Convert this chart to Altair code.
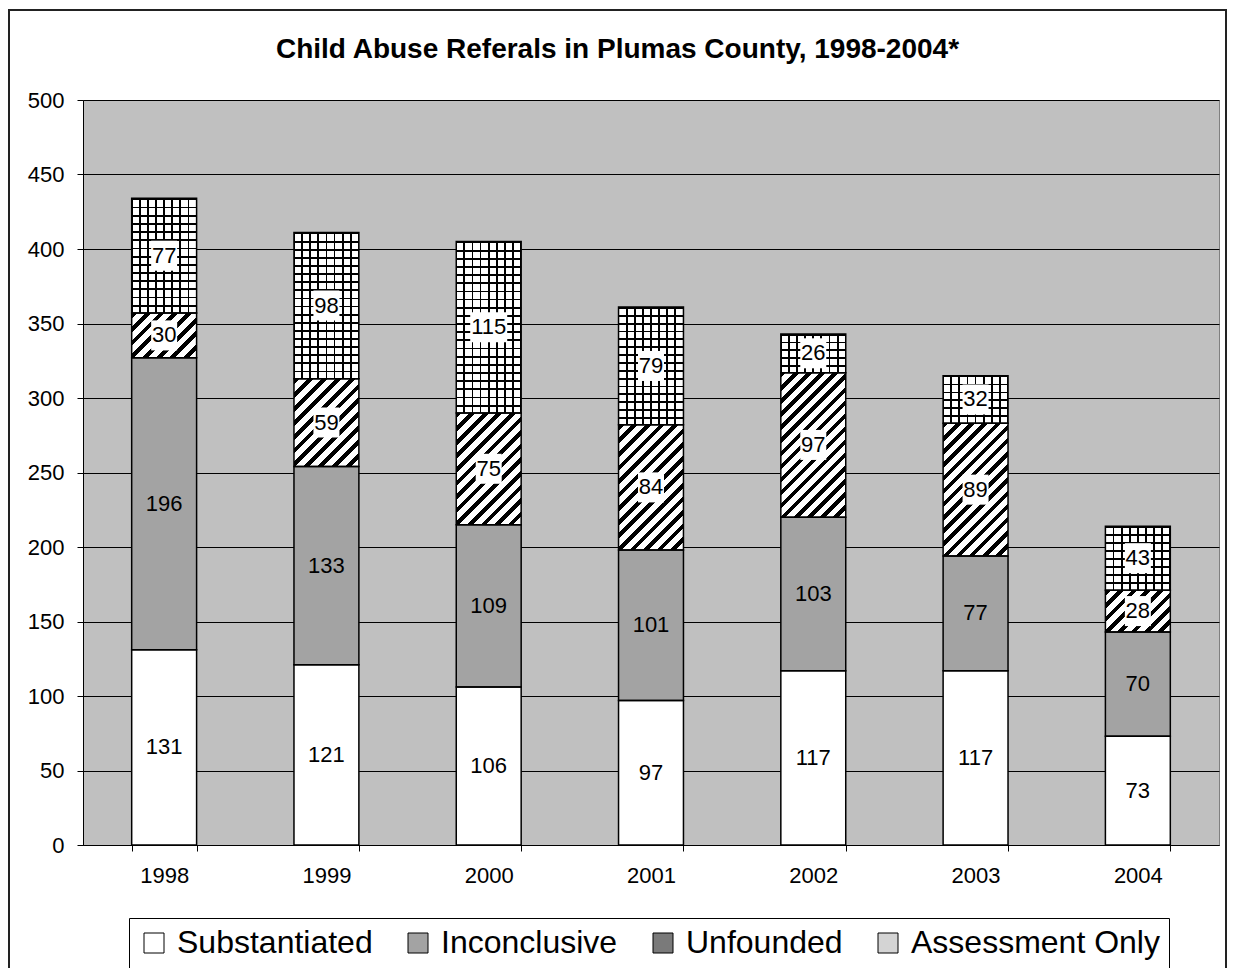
import math
import altair as alt
import pandas as pd

# ---------------- data ----------------
years = ["1998", "1999", "2000", "2001", "2002", "2003", "2004"]
substantiated = [131, 121, 106, 97, 117, 117, 73]
inconclusive = [196, 133, 109, 101, 103, 77, 70]
unfounded = [30, 59, 75, 84, 97, 89, 28]
assessment = [77, 98, 115, 79, 26, 32, 43]
categories = ["Substantiated", "Inconclusive", "Unfounded", "Assessment Only"]
title_text = "Child Abuse Referals in Plumas County, 1998-2004*"
y_ticks = [0, 50, 100, 150, 200, 250, 300, 350, 400, 450, 500]

series = [substantiated, inconclusive, unfounded, assessment]
rows = []
for i, yr in enumerate(years):
    for k, (cat, vals) in enumerate(zip(categories, series)):
        rows.append({"year": yr, "category": cat, "order": k, "value": vals[i]})
df = pd.DataFrame(rows)

# ---------------- style ----------------
FONT = "Liberation Sans"
W, H = 1136, 745
YMAX = 500
BAR_W = W / 7 * 0.4
cat_colors = ["#ffffff", "#a3a3a3", "#7a7a7a", "#d4d4d4"]

GS = alt.GradientStop


def stripe_gradient(h, period=9.5, frac=0.42):
    w = BAR_W
    k = (w + h) / (w * w + h * h)
    n = max(2, round((w + h) / math.sqrt(2) / period))
    stops = []
    for j in range(n):
        a, b, c = j / n, (j + frac) / n, (j + 1) / n
        stops += [GS(offset=a, color="black"), GS(offset=b, color="black"),
                  GS(offset=b, color="white"), GS(offset=c, color="white")]
    return alt.LinearGradient(gradient="linear", stops=stops,
                              x1=0, y1=0, x2=k * w, y2=k * h)


def hgrid_gradient(h, cell=8.0, lw=1.8):
    n = max(1, round(h / cell))
    t = lw / h
    stops = []
    for j in range(n):
        a = j / n
        stops += [GS(offset=a, color="black"), GS(offset=a + t, color="black"),
                  GS(offset=a + t, color="white"), GS(offset=(j + 1) / n, color="white")]
    return alt.LinearGradient(gradient="linear", stops=stops, x1=0, y1=0, x2=0, y2=1)


def vgrid_gradient(n=8, lw=1.8):
    t = lw / BAR_W
    clear = "rgba(0,0,0,0)"
    stops = []
    for j in range(n + 1):
        a = j / n
        lo = max(0.0, a - t / 2)
        hi = min(1.0, a + t / 2)
        stops += [GS(offset=lo, color=clear), GS(offset=lo, color="black"),
                  GS(offset=hi, color="black"), GS(offset=hi, color=clear)]
    return alt.LinearGradient(gradient="linear", stops=stops, x1=0, y1=0, x2=1, y2=0)


xscale = alt.Scale(paddingInner=0.6, paddingOuter=0.3)
yscale = alt.Scale(domain=[0, YMAX], nice=False, zero=True)

x_main = alt.X("year:N", scale=xscale, sort=years,
               axis=alt.Axis(title=None, labelFontSize=22, labelFont=FONT, labelColor="black",
                             labelAngle=0, tickBand="extent", tickSize=6, tickColor="black",
                             domainColor="black", labelPadding=14, grid=False))
y_main = alt.Y("y0:Q", scale=yscale,
               axis=alt.Axis(title=None, values=y_ticks, labelFontSize=22, labelFont=FONT,
                             labelColor="black", grid=True, gridColor="black", gridWidth=1,
                             tickSize=6, tickColor="black", domainColor="black",
                             labelPadding=13))
x_plain = alt.X("year:N", scale=xscale, sort=years)
y_plain = alt.Y("y0:Q", scale=yscale)

base = (alt.Chart(df)
        .transform_stack(stack="value", groupby=["year"],
                         sort=[alt.SortField(field="order", order="ascending")],
                         as_=["y0", "y1"])
        .transform_calculate(mid="(datum.y0 + datum.y1) / 2"))

legend = alt.Legend(title=None, orient="none", legendX=46, legendY=818,
                    direction="horizontal", columns=4, symbolType="square",
                    symbolSize=400, symbolStrokeColor="black", symbolStrokeWidth=1,
                    symbolOpacity=1, labelFontSize=32, labelFont=FONT, labelColor="black",
                    labelOffset=7, columnPadding=29, padding=9,
                    strokeColor="black", fillColor="white", labelLimit=400)

layers = []
layers.append(base.mark_bar().encode(
    x=x_main, y=y_main, y2="y1:Q",
    color=alt.Color("category:N", scale=alt.Scale(domain=categories, range=cat_colors),
                    legend=legend)))

for i, yr in enumerate(years):
    h = unfounded[i] * H / YMAX
    layers.append(base.transform_filter(
        f"datum.year == '{yr}' && datum.category == 'Unfounded'"
    ).mark_bar(fill=stripe_gradient(h)).encode(x=x_plain, y=y_plain, y2="y1:Q"))

for i, yr in enumerate(years):
    h = assessment[i] * H / YMAX
    layers.append(base.transform_filter(
        f"datum.year == '{yr}' && datum.category == 'Assessment Only'"
    ).mark_bar(fill=hgrid_gradient(h)).encode(x=x_plain, y=y_plain, y2="y1:Q"))

layers.append(base.transform_filter("datum.category == 'Assessment Only'")
              .mark_bar(fill=vgrid_gradient()).encode(x=x_plain, y=y_plain, y2="y1:Q"))

# outlines
layers.append(base.mark_bar(fill="transparent", stroke="black", strokeWidth=1.5)
              .encode(x=x_plain, y=y_plain, y2="y1:Q"))

# white boxes behind labels on patterned segments
boxed = "(datum.category == 'Unfounded' || datum.category == 'Assessment Only')"
box_base = base.transform_calculate(blo="datum.mid - 10.07", bhi="datum.mid + 10.07")
layers.append(box_base.transform_filter(boxed + " && datum.value < 100")
              .mark_bar(width=26, color="white")
              .encode(x=x_plain, y=alt.Y("blo:Q", scale=yscale), y2="bhi:Q"))
layers.append(box_base.transform_filter(boxed + " && datum.value >= 100")
              .mark_bar(width=37, color="white")
              .encode(x=x_plain, y=alt.Y("blo:Q", scale=yscale), y2="bhi:Q"))

layers.append(base.mark_text(font=FONT, fontSize=22, color="black", baseline="middle")
              .encode(x=x_plain, y=alt.Y("mid:Q", scale=yscale), text="value:Q"))

one = pd.DataFrame({"a": [0]})

# chart title
layers.append(alt.Chart(one).mark_text(
    text=title_text, font=FONT, fontSize=28, fontWeight="bold", color="black",
    align="center", baseline="alphabetic"
).encode(x=alt.value(534.5), y=alt.value(-42)))

# outer chart border
layers.append(alt.Chart(one).mark_rect(
    fill="transparent", stroke="#222222", strokeWidth=2
).encode(x=alt.value(-74), x2=alt.value(W + 7), y=alt.value(-90), y2=alt.value(H + 140)))

chart = alt.layer(*layers).properties(
    width=W, height=H,
    autosize=alt.AutoSizeParams(type="none"),
    padding={"left": 75, "top": 92, "right": 8, "bottom": 123},
).configure_view(fill="#c0c0c0", stroke="#808080", strokeWidth=1)

chart.save("out.html", embed_options={"renderer": "svg", "actions": False})
